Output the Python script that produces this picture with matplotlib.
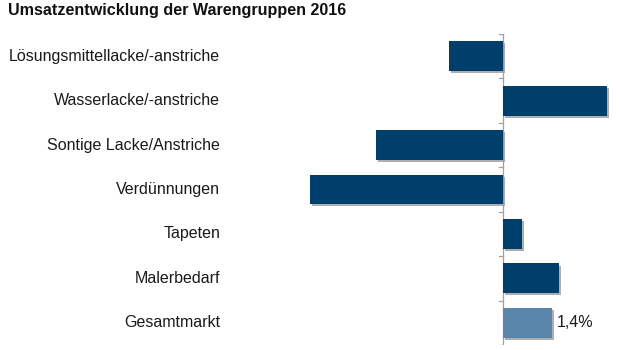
import matplotlib
matplotlib.use("Agg")
import matplotlib.pyplot as plt
import matplotlib.patheffects as pe

categories = [
    "Lösungsmittellacke/-anstriche",
    "Wasserlacke/-anstriche",
    "Sontige Lacke/Anstriche",
    "Verdünnungen",
    "Tapeten",
    "Malerbedarf",
    "Gesamtmarkt",
]
values = [-1.55, 2.98, -3.65, -5.55, 0.55, 1.6, 1.4]
bar_colors = ["#003f6b"] * 6 + ["#5b86ab"]
value_label = "1,4%"

plt.rcParams["font.family"] = ["Liberation Sans", "DejaVu Sans"]

fig = plt.figure(figsize=(6.2, 3.5), dpi=100)
# axes spans pixels x 250..615, y 34..345 (from top)
ax = fig.add_axes([250 / 620, 1 - 345 / 350, 365 / 620, 311 / 350])

px_per_unit = 34.8
ax.set_xlim(-(503 - 250) / px_per_unit, (615 - 503) / px_per_unit)
ax.set_ylim(len(categories) - 0.5, -0.5)

shadow = [pe.SimplePatchShadow(offset=(1.5, -1.5), shadow_rgbFace="#9a9a9a", alpha=0.8), pe.Normal()]
y = range(len(categories))
bars = ax.barh(y, values, height=0.67, color=bar_colors, zorder=2)
for b in bars:
    b.set_path_effects(shadow)

# zero axis with ticks at category boundaries
ax.axvline(0, color="#a0a0a0", lw=0.9, zorder=1)
for yb in [i - 0.5 for i in range(len(categories) + 1)]:
    ax.plot([-0.12, 0], [yb, yb], color="#a0a0a0", lw=0.9, zorder=1)

for s in ax.spines.values():
    s.set_visible(False)
ax.set_xticks([])
ax.set_yticks([])

for i, cat in enumerate(categories):
    fig.text(220 / 620, 1 - (34 + 44.4 * (i + 0.5)) / 350, cat,
             ha="right", va="center", fontsize=11.5, color="#1a1a1a")

ax.text(values[-1] + 0.15, len(categories) - 1, value_label,
        ha="left", va="center", fontsize=11.5, color="#1a1a1a")

fig.text(8 / 620, 1 - 11 / 350, "Umsatzentwicklung der Warengruppen 2016",
         ha="left", va="center", fontsize=11.6, fontweight="bold", color="#111111")

fig.savefig("out.png", dpi=100)
